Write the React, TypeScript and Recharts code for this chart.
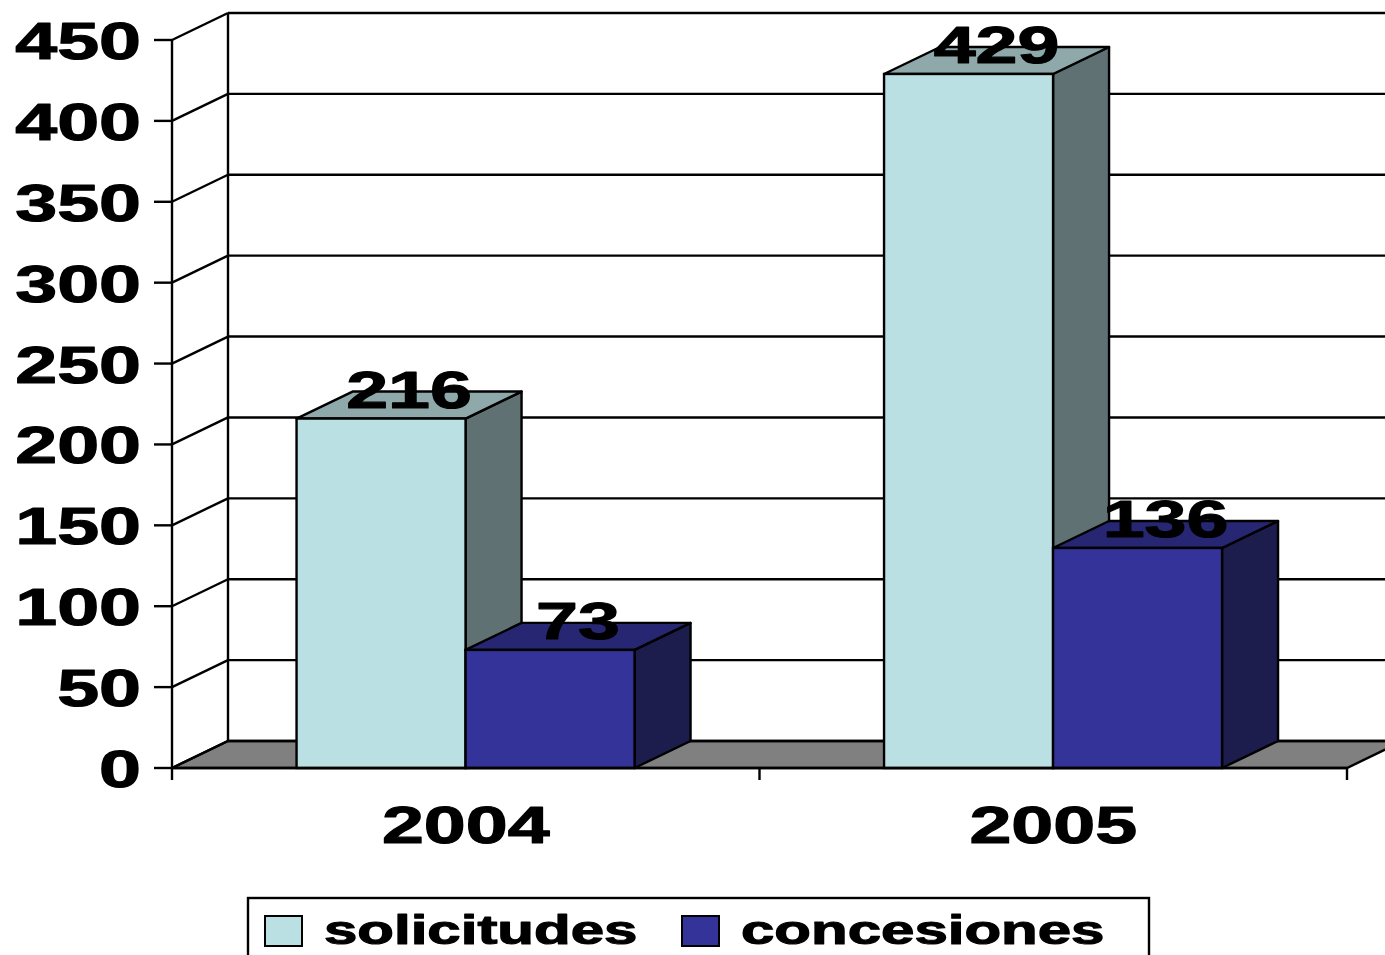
import React from 'react';
import { BarChart, Bar, XAxis, YAxis, CartesianGrid, LabelList, Legend } from 'recharts';

const years = ['2004', '2005'];
const solicitudes = [216, 429];
const concesiones = [73, 136];
const yTicks = [0, 50, 100, 150, 200, 250, 300, 350, 400, 450];
const seriesNames = ['solicitudes', 'concesiones'];

const data = years.map((y, i) => ({ year: y, solicitudes: solicitudes[i], concesiones: concesiones[i] }));

const W = 1385;
const H = 955;
const MARGIN = { top: 40, right: 38, bottom: 127, left: 0 };
const Y_AXIS_W = 172;
const X_AXIS_H = 60;
const PLOT_W = W - MARGIN.left - MARGIN.right - Y_AXIS_W;
const DX = 56;
const DY = 27;
const SX = 1.45;
const FONT = '"Liberation Sans", Arial, Helvetica, sans-serif';
const LW = 2.4;

const COLORS: Record<string, { front: string; top: string; side: string }> = {
  solicitudes: { front: '#BBE0E3', top: '#8FA9AA', side: '#5F7173' },
  concesiones: { front: '#333399', top: '#262673', side: '#1C1C4D' },
};

const StretchText = ({ x, y, anchor, size, sx = SX, children }: any) => (
  <g transform={`translate(${x},${y}) scale(${sx},1)`}>
    <text
      x={0}
      y={0}
      textAnchor={anchor}
      fontFamily={FONT}
      fontWeight="bold"
      fontSize={size}
      fill="#000"
      stroke="#000"
      strokeWidth={1.1}
      strokeLinejoin="round"
    >
      {children}
    </text>
  </g>
);

const makeShape = (c: { front: string; top: string; side: string }) => (props: any) => {
  const x = Number(props.x);
  const y = Number(props.y);
  const w = Number(props.width);
  const h = Number(props.height);
  if (!isFinite(x) || !isFinite(y)) return <g />;
  const top = `${x},${y} ${x + DX},${y - DY} ${x + w + DX},${y - DY} ${x + w},${y}`;
  const side = `${x + w},${y} ${x + w + DX},${y - DY} ${x + w + DX},${y + h - DY} ${x + w},${y + h}`;
  return (
    <g>
      <polygon points={side} fill={c.side} stroke="#000" strokeWidth={LW} strokeLinejoin="round" />
      <polygon points={top} fill={c.top} stroke="#000" strokeWidth={LW} strokeLinejoin="round" />
      <rect x={x} y={y} width={w} height={h} fill={c.front} stroke="#000" strokeWidth={LW} />
    </g>
  );
};

const gridLine = (props: any) => {
  const { x1, y1, x2, index, x, y, width, height } = props;
  const bottom = y + height;
  return (
    <g key={`grid-${index}`}>
      {index === 0 && (
        <g>
          <polygon
            points={`${x},${bottom} ${x + DX},${bottom - DY} ${x + width + DX},${bottom - DY} ${x + width},${bottom}`}
            fill="#808080"
            stroke="#000"
            strokeWidth={LW}
          />
          <line x1={x + DX} y1={y - DY} x2={x + DX} y2={bottom - DY} stroke="#000" strokeWidth={LW} />
        </g>
      )}
      <line x1={x1} y1={y1} x2={x1 + DX} y2={y1 - DY} stroke="#000" strokeWidth={LW} />
      <line x1={x1 + DX} y1={y1 - DY} x2={x2 + DX} y2={y1 - DY} stroke="#000" strokeWidth={LW} />
    </g>
  );
};

const XTick = (props: any) => {
  const { x, y, payload, index } = props;
  const half = PLOT_W / years.length / 2;
  return (
    <g>
      <line x1={x - half} y1={y} x2={x - half} y2={y + 12} stroke="#000" strokeWidth={LW} />
      {index === years.length - 1 && (
        <line x1={x + half} y1={y} x2={x + half} y2={y + 12} stroke="#000" strokeWidth={LW} />
      )}
      <StretchText x={x} y={y + 75} anchor="middle" size={52}>
        {payload.value}
      </StretchText>
    </g>
  );
};

const YTick = (props: any) => {
  const { x, y, payload } = props;
  return (
    <StretchText x={x} y={y + 19} anchor="end" size={52}>
      {payload.value}
    </StretchText>
  );
};

const BarLabel = (props: any) => {
  const { x, y, width, value } = props;
  return (
    <StretchText x={Number(x) + Number(width) / 2 + DX / 2} y={Number(y) - 11} anchor="middle" size={52}>
      {value}
    </StretchText>
  );
};

const ITEM_OFFSETS = [18, 435];

const renderLegend = () => {
  return (
    <svg width={903} height={58} style={{ display: 'block', overflow: 'visible' }}>
      <rect x={1} y={1} width={901} height={90} fill="#fff" stroke="#000" strokeWidth={LW} />
      {seriesNames.map((name, i) => {
        const c = COLORS[name];
        const ox = ITEM_OFFSETS[i];
        return (
          <g key={name}>
            <rect x={ox} y={19} width={37} height={30} fill={c.front} stroke="#000" strokeWidth={2} />
            <StretchText x={ox + 59} y={47} anchor="start" size={40} sx={1.5}>
              {name}
            </StretchText>
          </g>
        );
      })}
    </svg>
  );
};

export default function App() {
  return (
    <div style={{ position: 'absolute', left: 0, top: 0, width: W, height: H, background: '#fff', overflow: 'hidden' }}>
      <BarChart
        width={W}
        height={H}
        data={data}
        margin={MARGIN}
        barCategoryGap="21.2%"
        barGap={0}
      >
        <CartesianGrid horizontal={gridLine} vertical={false} />
        <XAxis
          dataKey="year"
          height={X_AXIS_H}
          axisLine={{ stroke: '#000', strokeWidth: LW }}
          tickLine={false}
          tickSize={0}
          tickMargin={0}
          tick={XTick}
          interval={0}
        />
        <YAxis
          width={Y_AXIS_W}
          domain={[0, 450]}
          ticks={yTicks}
          interval={0}
          axisLine={{ stroke: '#000', strokeWidth: LW }}
          tickLine={{ stroke: '#000', strokeWidth: LW }}
          tickSize={18}
          tickMargin={13}
          tick={YTick}
        />
        <Bar dataKey="solicitudes" name="solicitudes" fill={COLORS.solicitudes.front} shape={makeShape(COLORS.solicitudes)} isAnimationActive={false}>
          <LabelList dataKey="solicitudes" content={BarLabel} />
        </Bar>
        <Bar dataKey="concesiones" name="concesiones" fill={COLORS.concesiones.front} shape={makeShape(COLORS.concesiones)} isAnimationActive={false}>
          <LabelList dataKey="concesiones" content={BarLabel} />
        </Bar>
        <Legend
          layout="vertical"
          align="center"
          verticalAlign="middle"
          wrapperStyle={{ left: 247, top: 897, width: 903, height: 58 }}
          content={renderLegend}
        />
      </BarChart>
    </div>
  );
}
